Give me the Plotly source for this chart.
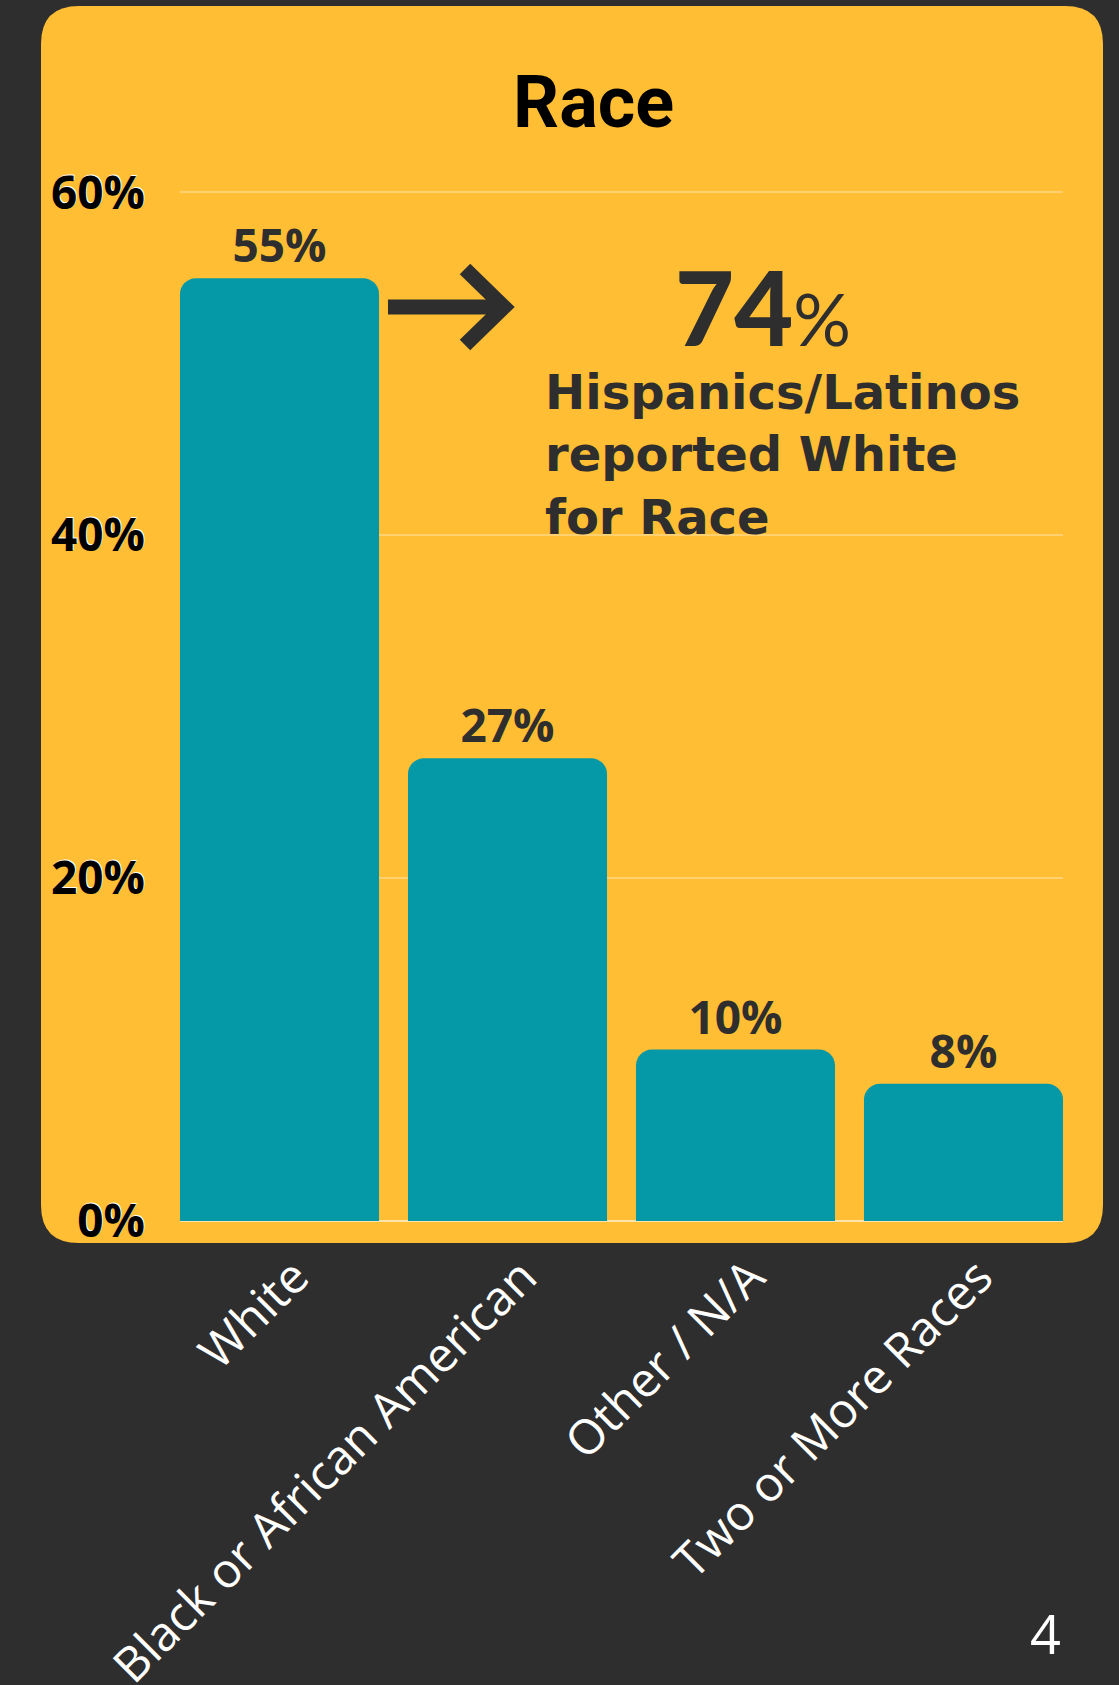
import plotly.graph_objects as go

categories = ["White", "Black or African American", "Other / N/A", "Two or More Races"]
values = [55, 27, 10, 8]
bar_labels = ["55%", "27%", "10%", "8%"]
y_tickvals = [0, 20, 40, 60]
y_ticktext = ["0%", "20%", "40%", "60%"]

BG = "#2E2E2E"
CARD = "#FFBE33"
TEAL = "#0599A8"
DARK = "#2E2E2E"

W, H = 1119, 1685
L, R, T, B = 180, 56, 189, 464
pw, ph = W - L - R, H - T - B


def px2paper_x(px):
    return (px - L) / pw


def px2paper_y(py):
    return (H - B - py) / ph


fig = go.Figure()
fig.add_trace(go.Bar(
    x=list(range(len(categories))),
    y=values,
    text=bar_labels,
    textposition="outside",
    textfont=dict(family="Open Sans", size=46, color=DARK, weight="bold"),
    marker=dict(color=TEAL, cornerradius=16, line=dict(width=0)),
    cliponaxis=False,
    hoverinfo="skip",
))

# rounded card background
x0, x1 = px2paper_x(41), px2paper_x(1103)
y1, y0 = px2paper_y(6), px2paper_y(1243)
rx, ry = 38 / pw, 38 / ph
card_path = (
    f"M {x0+rx},{y1} L {x1-rx},{y1} Q {x1},{y1} {x1},{y1-ry} "
    f"L {x1},{y0+ry} Q {x1},{y0} {x1-rx},{y0} "
    f"L {x0+rx},{y0} Q {x0},{y0} {x0},{y0+ry} "
    f"L {x0},{y1-ry} Q {x0},{y1} {x0+rx},{y1} Z"
)
fig.add_shape(type="path", path=card_path, xref="paper", yref="paper",
              fillcolor=CARD, line=dict(width=0), layer="below")


# arrow (decoration)
def dx(px):
    return (px - L) / 228 - 0.4365


def dy(py):
    return (H - B - py) / (ph / 60.2)


fig.add_shape(type="path",
              path=f"M {dx(388)},{dy(307)} L {dx(504)},{dy(307)}",
              xref="x", yref="y", line=dict(color=DARK, width=15))
fig.add_shape(type="path",
              path=f"M {dx(465)},{dy(269)} L {dx(504)},{dy(307)} L {dx(465)},{dy(345)}",
              xref="x", yref="y", line=dict(color=DARK, width=15))

# title
fig.add_annotation(text="<b>Race</b>", xref="paper", yref="paper",
                   x=px2paper_x(593), y=px2paper_y(102), xanchor="center", yanchor="middle",
                   showarrow=False, font=dict(family="Roboto", size=72, color="#000000"))

fig.add_annotation(text="74<span style='font-size:72px;font-weight:400'>%</span>",
                   xref="paper", yref="paper",
                   x=px2paper_x(763), y=px2paper_y(306), xanchor="center", yanchor="middle",
                   showarrow=False, font=dict(family="Lato", size=102, color=DARK, weight=900))

fig.add_annotation(text="Hispanics/Latinos<br>reported White<br>for Race",
                   xref="paper", yref="paper",
                   x=px2paper_x(543), y=px2paper_y(454), xanchor="left", yanchor="middle",
                   align="left", showarrow=False,
                   font=dict(family="DejaVu Sans", size=48, color=DARK, weight="bold"))

fig.add_annotation(text="4", xref="paper", yref="paper",
                   x=px2paper_x(1045), y=px2paper_y(1633), xanchor="center", yanchor="middle",
                   showarrow=False, font=dict(family="Open Sans", size=54, color="#FFFFFF"))

fig.update_layout(
    width=W, height=H,
    margin=dict(l=L, r=R, t=T, b=B, pad=0, autoexpand=False),
    paper_bgcolor=BG,
    plot_bgcolor="rgba(0,0,0,0)",
    bargap=0.127,
    showlegend=False,
    xaxis=dict(
        range=[-0.4365, 3.4365],
        tickmode="array",
        tickvals=list(range(len(categories))),
        ticktext=categories,
        tickangle=-45,
        tickfont=dict(family="Open Sans", size=48, color="#FFFFFF"),
        showgrid=False, zeroline=False, showline=False,
        ticks="",
        automargin=False,
        ticklabelstandoff=17,
        ticklabelshift=15,
    ),
    yaxis=dict(
        range=[0, 60.2],
        tickmode="array",
        tickvals=y_tickvals,
        ticktext=y_ticktext,
        tickfont=dict(family="Open Sans", size=46, color="#000000", weight="bold",
                      shadow="1px -1px 0px #FFFFFF"),
        showgrid=True, gridcolor="rgba(255,255,255,0.3)", gridwidth=2,
        zeroline=True, zerolinecolor="rgba(255,255,255,0.6)", zerolinewidth=2,
        showline=False, ticks="",
        automargin=False,
        ticklabelstandoff=34,
    ),
)

fig.write_html("out.html", config={"displayModeBar": False},
               post_script="document.body.style.margin='0';")
